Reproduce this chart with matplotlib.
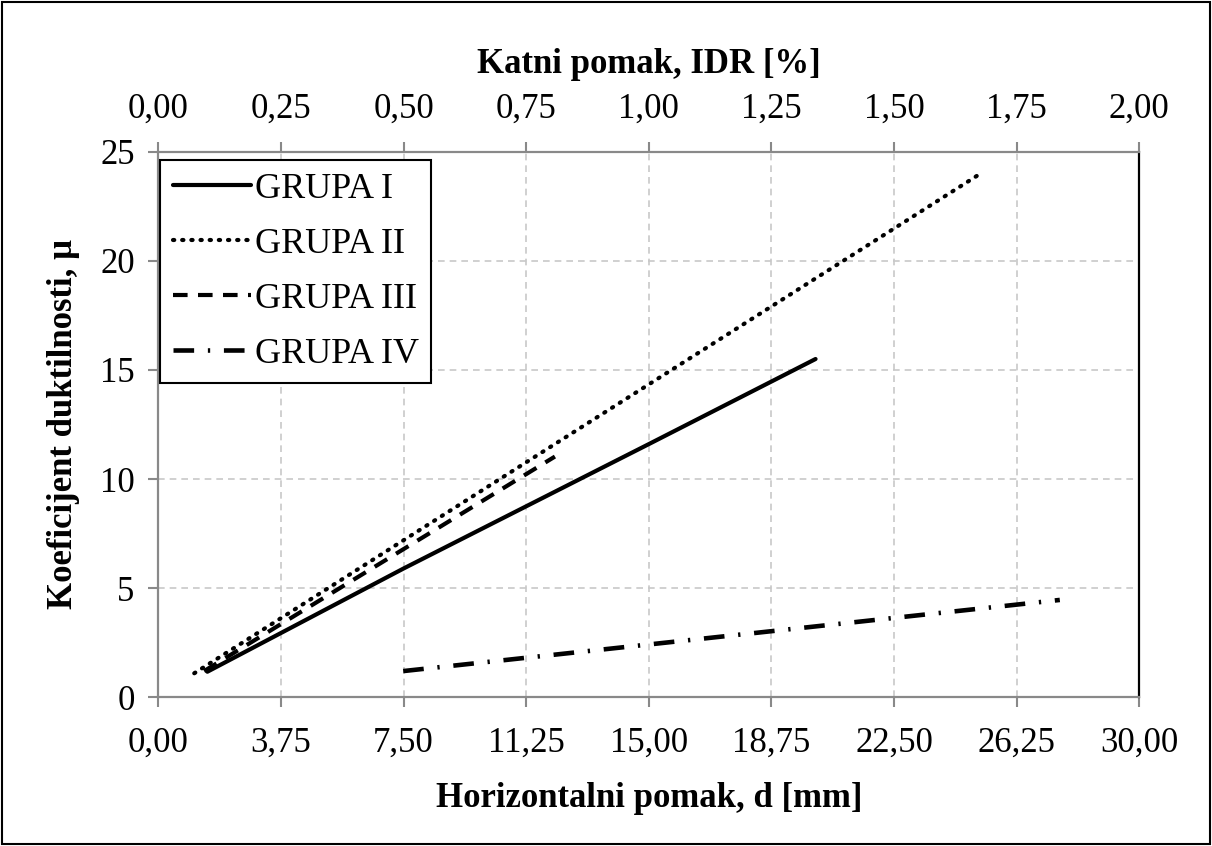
import matplotlib
matplotlib.use("Agg")
import matplotlib.pyplot as plt
from matplotlib.patches import Rectangle
from matplotlib.ticker import FixedLocator, FuncFormatter

plt.rcParams['font.family'] = ['Liberation Serif', 'DejaVu Serif']

# data
g1_d = [1.5, 7.5, 15.0, 20.1]
g1_mu = [1.17, 5.9, 11.6, 15.5]
g2_d = [1.1, 25.2]
g2_mu = [1.1, 24.05]
g3_d = [1.4, 12.13]
g3_mu = [1.2, 11.03]
g4_d = [7.49, 27.57]
g4_mu = [1.2, 4.46]

x_ticks = [0, 3.75, 7.5, 11.25, 15, 18.75, 22.5, 26.25, 30]
y_ticks = [0, 5, 10, 15, 20, 25]
idr_ticks = [0, 0.25, 0.5, 0.75, 1.0, 1.25, 1.5, 1.75, 2.0]

gray = '#898989'
fs = 25

fig = plt.figure(figsize=(12.12, 8.46), dpi=100)
ax = fig.add_axes([0.1306, 0.1758, 0.8094, 0.6449])

ax.plot(g1_d, g1_mu, color='black', lw=3, solid_capstyle='round', label='GRUPA I')
ax.plot(g2_d, g2_mu, color='black', lw=3, linestyle=(0, (0.3, 1.9)), dash_capstyle='round', label='GRUPA II')
ax.plot(g3_d, g3_mu, color='black', lw=3, linestyle=(0, (3.5, 2.5)), label='GRUPA III')
ax.plot(g4_d, g4_mu, color='black', lw=3.3, linestyle=(0, (4.5, 3, 0.5, 3)), label='GRUPA IV')

ax.set_xlim(0, 30)
ax.set_ylim(0, 25)
ax.xaxis.set_major_locator(FixedLocator(x_ticks))
ax.yaxis.set_major_locator(FixedLocator(y_ticks))
ax.xaxis.set_major_formatter(FuncFormatter(lambda v, p: f"{v:.2f}".replace('.', ',')))
ax.yaxis.set_major_formatter(FuncFormatter(lambda v, p: f"{v:.0f}"))
ax.grid(True, color='#c8c8c8', linestyle=(0, (4, 3)), linewidth=1.2)
ax.tick_params(axis='both', labelsize=fs, color=gray, width=1.5, length=7)
ax.tick_params(axis='x', pad=14)
ax.tick_params(axis='y', pad=10)

for s in ['left', 'bottom', 'top']:
    ax.spines[s].set_color(gray)
    ax.spines[s].set_linewidth(1.6)
ax.spines['right'].set_color('black')
ax.spines['right'].set_linewidth(1.6)

ax.set_xlabel('Horizontalni pomak, d [mm]', fontsize=fs, fontweight='bold', labelpad=16)
ax.set_ylabel('Koeficijent duktilnosti, μ', fontsize=fs, fontweight='bold', labelpad=14)

top = ax.twiny()
top.set_xlim(0, 2)
top.xaxis.set_major_locator(FixedLocator(idr_ticks))
top.xaxis.set_major_formatter(FuncFormatter(lambda v, p: f"{v:.2f}".replace('.', ',')))
top.tick_params(axis='x', labelsize=fs, color=gray, width=1.5, length=7, pad=12)
top.set_xlabel('Katni pomak, IDR [%]', fontsize=fs, fontweight='bold', labelpad=14)
for s in top.spines.values():
    s.set_visible(False)

leg = ax.legend(loc='upper left', bbox_to_anchor=(0.002, 0.985), fontsize=26,
                frameon=True, fancybox=False, edgecolor='black', framealpha=1,
                handlelength=2.15, handletextpad=0.12, labelspacing=0.6,
                borderpad=0.35, borderaxespad=0)
leg.get_frame().set_linewidth(1.5)

fig.add_artist(Rectangle((0.002, 0.002), 0.996, 0.996, transform=fig.transFigure,
                         fill=False, edgecolor='black', linewidth=1.5))

fig.savefig('out.png', dpi=100)
